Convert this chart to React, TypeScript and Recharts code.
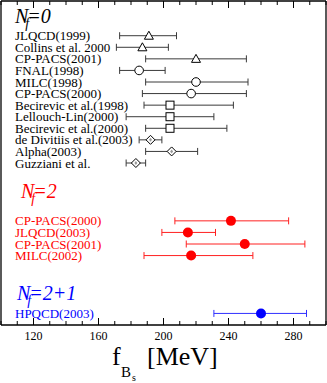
import { ScatterChart, Scatter, XAxis, YAxis, ErrorBar } from 'recharts'

// f_Bs lattice results, grouped by number of sea flavours
const NF0_LABELS = [
  'JLQCD(1999)',
  'Collins et al. 2000',
  'CP-PACS(2001)',
  'FNAL(1998)',
  'MILC(1998)',
  'CP-PACS(2000)',
  'Becirevic et al.(1998)',
  'Lellouch-Lin(2000)',
  'Becirevic et al.(2000)',
  'de Divitiis et al.(2003)',
  'Alpha(2003)',
  'Guzziani et al.',
]
const NF0_VALUES = [191, 187, 220, 185, 220, 217, 204, 204, 204, 192, 205, 183]
const NF0_LOW = [173, 171, 189, 173, 189, 187, 188, 177, 189, 185, 189, 177]
const NF0_HIGH = [208, 203, 251, 201, 252, 251, 243, 231, 239, 199, 221, 189]
const NF0_MARKERS = [
  'triangle', 'triangle', 'triangle',
  'circle', 'circle', 'circle',
  'square', 'square', 'square',
  'diamond', 'diamond', 'diamond',
]
const NF0_ROWS = [0, 1, 2, 3, 4, 5, 6, 7, 8, 9, 10, 11]

const NF2_LABELS = ['CP-PACS(2000)', 'JLQCD(2003)', 'CP-PACS(2001)', 'MILC(2002)']
const NF2_VALUES = [241.5, 215, 250, 217]
const NF2_LOW = [207, 199, 214, 188]
const NF2_HIGH = [277, 232, 287, 255]
const NF2_ROWS = [16, 17, 18, 19]

const NF3_LABELS = ['HPQCD(2003)']
const NF3_VALUES = [260]
const NF3_LOW = [231]
const NF3_HIGH = [288]
const NF3_ROWS = [24]

const HEADER_TEXT = ['0', '2', '2+1']
const HEADER_ROWS = [-1.1, 14, 22.85]

const X_TICKS = [100, 110, 120, 130, 140, 150, 160, 170, 180, 190, 200, 210, 220, 230, 240, 250, 260, 270, 280, 290, 300]
const X_LABELS = [120, 160, 200, 240, 280]

const SERIF = '"Liberation Serif", "Times New Roman", serif'
const GROUP_COLORS = ['#000000', '#ff0000', '#0000ff']
const BAR_COLORS = ['#3a3a3a', '#ff2020', '#3030ff']
const HEADER_INDENT = [15, 21, 17]

const build = (values: number[], low: number[], high: number[], rows: number[], markers?: string[]) =>
  values.map((v, i) => ({
    x: v,
    y: rows[i],
    err: [v - low[i], high[i] - v],
    marker: markers ? markers[i] : 'filled',
  }))

const nf0Data = build(NF0_VALUES, NF0_LOW, NF0_HIGH, NF0_ROWS, NF0_MARKERS)
const nf2Data = build(NF2_VALUES, NF2_LOW, NF2_HIGH, NF2_ROWS)
const nf3Data = build(NF3_VALUES, NF3_LOW, NF3_HIGH, NF3_ROWS)

// row -> label lookup for the left axis
const rowInfo = new Map<number, { text: string; group: number; header?: boolean }>()
NF0_ROWS.forEach((r, i) => rowInfo.set(r, { text: NF0_LABELS[i], group: 0 }))
NF2_ROWS.forEach((r, i) => rowInfo.set(r, { text: NF2_LABELS[i], group: 1 }))
NF3_ROWS.forEach((r, i) => rowInfo.set(r, { text: NF3_LABELS[i], group: 2 }))
HEADER_ROWS.forEach((r, i) => rowInfo.set(r, { text: HEADER_TEXT[i], group: i, header: true }))
const Y_TICKS = [...rowInfo.keys()].sort((a, b) => a - b)

const makeMarker = (color: string) => (props: any) => {
  const { cx, cy, payload } = props
  if (cx == null || cy == null) return <g />
  switch (payload.marker) {
    case 'triangle':
      return <polygon points={`${cx},${cy - 4.5} ${cx - 4.5},${cy + 3.5} ${cx + 4.5},${cy + 3.5}`} fill="#fff" stroke="#000" />
    case 'circle':
      return <circle cx={cx} cy={cy} r={4.3} fill="#fff" stroke="#000" />
    case 'square':
      return <rect x={cx - 4} y={cy - 4} width={8} height={8} fill="#fff" stroke="#000" />
    case 'diamond':
      return (
        <g>
          <polygon points={`${cx},${cy - 4.5} ${cx + 4.5},${cy} ${cx},${cy + 4.5} ${cx - 4.5},${cy}`} fill="#fff" stroke="#000" />
          <polygon points={`${cx},${cy - 2} ${cx + 1.5},${cy} ${cx},${cy + 2} ${cx - 1.5},${cy}`} fill="#999" />
        </g>
      )
    case 'none':
      return <g />
    default:
      return <circle cx={cx} cy={cy} r={5} fill={color} />
  }
}

const BottomTick = (props: any) => {
  const { x, y, payload } = props
  const major = X_LABELS.includes(payload.value)
  return (
    <g>
      <line x1={x} x2={x} y1={y} y2={y - (major ? 7 : 4)} stroke="#000" />
      {major && (
        <text x={x} y={y + 15} textAnchor="middle" fontSize={12} fontFamily={SERIF} fill="#000">
          {payload.value}
        </text>
      )}
    </g>
  )
}

const TopTick = (props: any) => {
  const { x, y, payload } = props
  const major = X_LABELS.includes(payload.value)
  return <line x1={x} x2={x} y1={y} y2={y + (major ? 7 : 4)} stroke="#000" />
}

const RowLabel = (props: any) => {
  const { x, y, payload } = props
  const info = rowInfo.get(payload.value)
  if (!info) return <g />
  const color = GROUP_COLORS[info.group]
  if (info.header) {
    const left = x + HEADER_INDENT[info.group] - 1
    return (
      <text x={left} y={y} fill={color} fontFamily={SERIF} fontStyle="italic" fontSize={20}>
        N
        <tspan fontSize={14} dx={-3} dy={5}>f</tspan>
        <tspan fontSize={20} dx={-2} dy={-5}>={info.text}</tspan>
      </text>
    )
  }
  return (
    <text x={x + 14} y={y} dy="0.35em" fill={color} fontFamily={SERIF} fontSize={13}>
      {info.text}
    </text>
  )
}

const AxisTitle = () => (
  <g fontFamily={SERIF} fill="#000">
    <text x={112} y={365} fontSize={26}>f</text>
    <text x={121} y={377} fontSize={15}>B</text>
    <text x={132} y={381} fontSize={10}>s</text>
    <text x={147} y={365} fontSize={26}>[MeV]</text>
  </g>
)

export default function App() {
  return (
    <div style={{ position: 'absolute', left: 0, top: 0, width: 327, height: 383, background: '#fff' }}>
      <ScatterChart width={327} height={383} margin={{ top: 0, right: 0, bottom: 28, left: 0 }}>
        <XAxis
          type="number"
          dataKey="x"
          domain={[100, 300]}
          ticks={X_TICKS}
          interval={0}
          allowDataOverflow
          height={30}
          tickSize={0}
          tickMargin={0}
          tickLine={false}
          tick={<BottomTick />}
          axisLine={{ stroke: '#000', strokeWidth: 1.3 }}
          label={<AxisTitle />}
        />
        <XAxis
          xAxisId="top"
          orientation="top"
          type="number"
          dataKey="x"
          domain={[100, 300]}
          ticks={X_TICKS}
          interval={0}
          allowDataOverflow
          height={1}
          tickSize={0}
          tickMargin={0}
          tickLine={false}
          tick={<TopTick />}
          axisLine={{ stroke: '#000', strokeWidth: 1.3 }}
        />
        <YAxis
          type="number"
          dataKey="y"
          domain={[-3, 25]}
          reversed
          ticks={Y_TICKS}
          interval={0}
          allowDataOverflow
          width={1}
          tickSize={0}
          tickMargin={0}
          tickLine={false}
          tick={<RowLabel />}
          axisLine={{ stroke: '#000', strokeWidth: 1.3 }}
        />
        <YAxis
          yAxisId="right"
          orientation="right"
          type="number"
          dataKey="y"
          domain={[-3, 25]}
          reversed
          allowDataOverflow
          width={1}
          tick={false}
          tickLine={false}
          axisLine={{ stroke: '#000', strokeWidth: 1.3 }}
        />
        <Scatter data={nf0Data} shape={makeMarker(GROUP_COLORS[0])} isAnimationActive={false}>
          <ErrorBar dataKey="err" direction="x" width={3.5} stroke={BAR_COLORS[0]} strokeWidth={1} isAnimationActive={false} />
        </Scatter>
        <Scatter data={nf2Data} shape={makeMarker(GROUP_COLORS[1])} isAnimationActive={false}>
          <ErrorBar dataKey="err" direction="x" width={3.5} stroke={BAR_COLORS[1]} strokeWidth={1} isAnimationActive={false} />
        </Scatter>
        <Scatter data={nf3Data} shape={makeMarker(GROUP_COLORS[2])} isAnimationActive={false}>
          <ErrorBar dataKey="err" direction="x" width={3.5} stroke={BAR_COLORS[2]} strokeWidth={1} isAnimationActive={false} />
        </Scatter>
      </ScatterChart>
    </div>
  )
}
